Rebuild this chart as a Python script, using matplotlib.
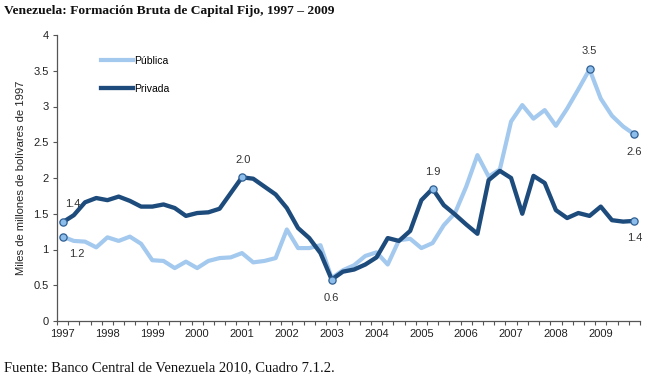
import matplotlib
matplotlib.use("Agg")
import matplotlib.pyplot as plt

years = list(range(1997, 2010))
publica = [1.18, 1.12, 1.11, 1.03, 1.17, 1.12, 1.18, 1.08, 0.85, 0.84, 0.74, 0.83, 0.74,
           0.84, 0.88, 0.89, 0.95, 0.82, 0.84, 0.88, 1.28, 1.02, 1.02, 1.06, 0.60, 0.71,
           0.78, 0.91, 0.96, 0.79, 1.13, 1.15, 1.02, 1.09, 1.34, 1.51, 1.88, 2.32, 2.02,
           2.12, 2.79, 3.02, 2.83, 2.95, 2.73, 2.97, 3.24, 3.52, 3.11, 2.87, 2.72, 2.61]
privada = [1.38, 1.48, 1.66, 1.72, 1.69, 1.74, 1.68, 1.60, 1.60, 1.63, 1.58, 1.47, 1.51,
           1.52, 1.57, 1.79, 2.01, 1.99, 1.88, 1.77, 1.58, 1.30, 1.16, 0.95, 0.58, 0.69,
           0.72, 0.79, 0.89, 1.16, 1.12, 1.26, 1.69, 1.85, 1.62, 1.49, 1.35, 1.22, 1.97,
           2.10, 2.00, 1.50, 2.03, 1.93, 1.55, 1.44, 1.51, 1.47, 1.60, 1.41, 1.39, 1.40]
# (index, label text, offset in pixels)
labels_pub = [(0, "1.2", (14, -17)), (47, "3.5", (0, 18)), (51, "2.6", (0, -18))]
labels_priv = [(0, "1.4", (10, 18)), (16, "2.0", (1, 17)), (24, "0.6", (0, -18)),
               (33, "1.9", (0, 17)), (51, "1.4", (0, -17))]

c_pub = "#A4C9EE"
c_priv = "#1D4B7C"
c_mark_face = "#8DBDEB"
c_mark_edge = "#2F5F92"

plt.rcParams['font.family'] = ['Liberation Sans', 'DejaVu Sans']
fig = plt.figure(figsize=(6.72, 3.79), dpi=100)
ax = fig.add_axes([57/672, 1-321/379, (640-57)/672, (321-35)/379])

x = list(range(len(publica)))
ax.plot(x, publica, color=c_pub, lw=3.0, label="Pública", solid_joinstyle='round', zorder=2)
ax.plot(x, privada, color=c_priv, lw=3.1, label="Privada", solid_joinstyle='round', zorder=3)

for series, lbls in ((publica, labels_pub), (privada, labels_priv)):
    for i, txt, off in lbls:
        ax.plot(i, series[i], 'o', ms=5.2, mfc=c_mark_face, mec=c_mark_edge, mew=0.9, zorder=5)
        ax.annotate(txt, (i, series[i]), xytext=off, textcoords='offset pixels',
                    ha='center', va='center', fontsize=8, color='#333333')

ax.set_xlim(-0.5, len(publica) - 0.5)
ax.set_ylim(0, 4)
ax.set_yticks([0, 0.5, 1, 1.5, 2, 2.5, 3, 3.5, 4])
ax.set_yticklabels(["0", "0.5", "1", "1.5", "2", "2.5", "3", "3.5", "4"])
ax.set_xticks([4 * k for k in range(len(years))])
ax.set_xticklabels([str(y) for y in years])
ax.set_xticks([i - 0.5 for i in range(len(publica) + 1)], minor=True)
ax.tick_params(axis='x', which='major', length=0, pad=6, labelsize=8, colors='#222222')
ax.tick_params(axis='x', which='minor', length=3, width=0.8, color='#555555')
ax.tick_params(axis='y', length=3, width=0.8, labelsize=8, color='#555555', labelcolor='#222222', pad=3)
for s in ('top', 'right'):
    ax.spines[s].set_visible(False)
for s in ('left', 'bottom'):
    ax.spines[s].set_color('#555555')
    ax.spines[s].set_linewidth(0.9)

ax.set_ylabel("Miles de millones de bolívares de 1997", fontsize=8.1, color='#222222', labelpad=5)

leg = ax.legend(loc='upper left', bbox_to_anchor=(0.06, 0.96), frameon=False,
                fontsize=7.5, handlelength=3.0, handletextpad=0.1, labelspacing=1.75)

fig.text(4/672, 1-11/379, "Venezuela: Formación Bruta de Capital Fijo, 1997 – 2009",
         family=['Liberation Serif', 'DejaVu Serif'], weight='bold', fontsize=9.7,
         ha='left', va='center', color='#111111')
fig.text(4/672, 1-368/379, "Fuente: Banco Central de Venezuela 2010, Cuadro 7.1.2.",
         family=['Liberation Serif', 'DejaVu Serif'], fontsize=10.5, ha='left', va='center',
         color='#111111')

fig.savefig("out.png", dpi=100)
